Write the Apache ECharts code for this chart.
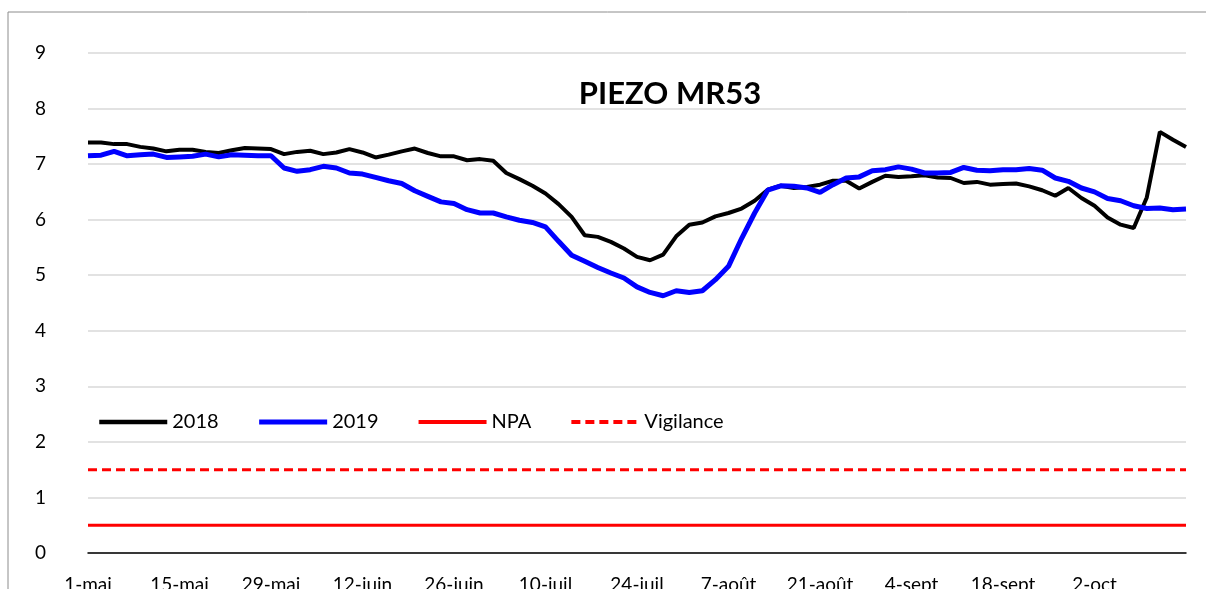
<!DOCTYPE html>
<html>
<head>
<meta charset="utf-8">
<script src="https://cdn.jsdelivr.net/npm/echarts@6/dist/echarts.min.js"></script>
<style>
  html, body { margin: 0; padding: 0; background: #fff; }
  #chart { width: 1206px; height: 589px; }
</style>
</head>
<body>
<div id="chart"></div>
<script>
// relevés tous les 2 jours, du 1er mai au 16 octobre
var moisFr = ['janv', 'févr', 'mars', 'avr', 'mai', 'juin', 'juil', 'août', 'sept', 'oct', 'nov', 'déc'];
var dates = [];
for (var i = 0; i < 85; i++) {
  var d = new Date(2019, 4, 1 + i * 2);
  dates.push(d.getDate() + '-' + moisFr[d.getMonth()]);
}

var niveau2018 = [
  7.39, 7.39, 7.36, 7.36, 7.31, 7.28, 7.23, 7.26, 7.26, 7.22,
  7.20, 7.25, 7.29, 7.28, 7.27, 7.18, 7.22, 7.24, 7.18, 7.21,
  7.27, 7.21, 7.12, 7.17, 7.23, 7.28, 7.20, 7.14, 7.14, 7.07,
  7.09, 7.06, 6.84, 6.73, 6.61, 6.47, 6.28, 6.05, 5.72, 5.69,
  5.60, 5.48, 5.33, 5.27, 5.37, 5.70, 5.91, 5.95, 6.06, 6.12,
  6.20, 6.34, 6.54, 6.61, 6.57, 6.59, 6.63, 6.70, 6.70, 6.56,
  6.68, 6.79, 6.77, 6.78, 6.80, 6.76, 6.75, 6.66, 6.68, 6.63,
  6.64, 6.65, 6.60, 6.53, 6.43, 6.57, 6.39, 6.25, 6.04, 5.91,
  5.85, 6.40, 7.58, 7.44, 7.31
];

var niveau2019 = [
  7.15, 7.16, 7.23, 7.15, 7.17, 7.18, 7.12, 7.13, 7.14, 7.18,
  7.13, 7.17, 7.16, 7.15, 7.15, 6.93, 6.87, 6.90, 6.96, 6.93,
  6.84, 6.82, 6.76, 6.70, 6.65, 6.52, 6.42, 6.32, 6.29, 6.18,
  6.12, 6.12, 6.05, 5.99, 5.95, 5.87, 5.61, 5.36, 5.25, 5.14,
  5.04, 4.95, 4.79, 4.69, 4.63, 4.72, 4.69, 4.72, 4.92, 5.16,
  5.66, 6.12, 6.53, 6.61, 6.60, 6.57, 6.49, 6.63, 6.75, 6.77,
  6.88, 6.90, 6.95, 6.91, 6.84, 6.84, 6.85, 6.94, 6.89, 6.88,
  6.90, 6.90, 6.92, 6.89, 6.75, 6.69, 6.57, 6.50, 6.38, 6.34,
  6.25, 6.20, 6.21, 6.18, 6.19
];

var seuilNPA = 0.5;
var seuilVigilance = 1.5;

var npa = dates.map(function () { return seuilNPA; });
var vigilance = dates.map(function () { return seuilVigilance; });

var police = 'Lato, "Liberation Sans", sans-serif';

var myChart = echarts.init(document.getElementById('chart'));

var option = {
  animation: false,
  backgroundColor: '#fff',
  textStyle: { fontFamily: police },
  title: {
    text: 'PIEZO MR53',
    left: 665,
    top: 73,
    textAlign: 'center',
    textStyle: { fontSize: 31, fontWeight: 'bold', color: '#000', fontFamily: police }
  },
  legend: {
    left: 97,
    top: 412,
    padding: 0,
    itemWidth: 68,
    itemHeight: 16,
    itemGap: 38,
    itemStyle: { opacity: 0 },
    textStyle: { fontSize: 20, color: '#000', fontFamily: police },
    data: [
      { name: '2018', lineStyle: { width: 4.5 } },
      { name: '2019', lineStyle: { width: 5 } },
      { name: 'NPA', lineStyle: { width: 4 } },
      { name: 'Vigilance', lineStyle: { width: 4 } }
    ]
  },
  graphic: [{
    type: 'rect',
    shape: { x: 8, y: 12, width: 1260, height: 700 },
    style: { fill: 'none', stroke: '#8c8c8c', lineWidth: 1 },
    silent: true
  }],
  grid: { left: 88, right: 20, top: 53, bottom: 36, outerBoundsMode: 'none' },
  xAxis: {
    type: 'category',
    data: dates,
    boundaryGap: false,
    axisLine: { lineStyle: { color: '#000', width: 1.5 } },
    axisTick: { show: false },
    axisLabel: {
      interval: 6, margin: 22, fontSize: 19, color: '#000', fontFamily: police,
      showMaxLabel: false
    },
    splitLine: { show: false }
  },
  yAxis: {
    type: 'value',
    min: 0,
    max: 9,
    interval: 1,
    axisLine: { show: false },
    axisTick: { show: false },
    axisLabel: { margin: 42, fontSize: 19, color: '#000', fontFamily: police },
    splitLine: { lineStyle: { color: '#d9d9d9', width: 1.5 } }
  },
  series: [
    {
      name: 'NPA', type: 'line', data: npa, symbol: 'none',
      lineStyle: { color: '#ff0000', width: 3 }, itemStyle: { color: '#ff0000' }
    },
    {
      name: 'Vigilance', type: 'line', data: vigilance, symbol: 'none',
      lineStyle: { color: '#ff0000', width: 3, type: [9, 5] }, itemStyle: { color: '#ff0000' }
    },
    {
      name: '2018', type: 'line', data: niveau2018, symbol: 'none',
      lineStyle: { color: '#000', width: 4 }, itemStyle: { color: '#000' }
    },
    {
      name: '2019', type: 'line', data: niveau2019, symbol: 'none',
      lineStyle: { color: '#0000ff', width: 5 }, itemStyle: { color: '#0000ff' }
    }
  ]
};

myChart.setOption(option);
</script>
</body>
</html>
